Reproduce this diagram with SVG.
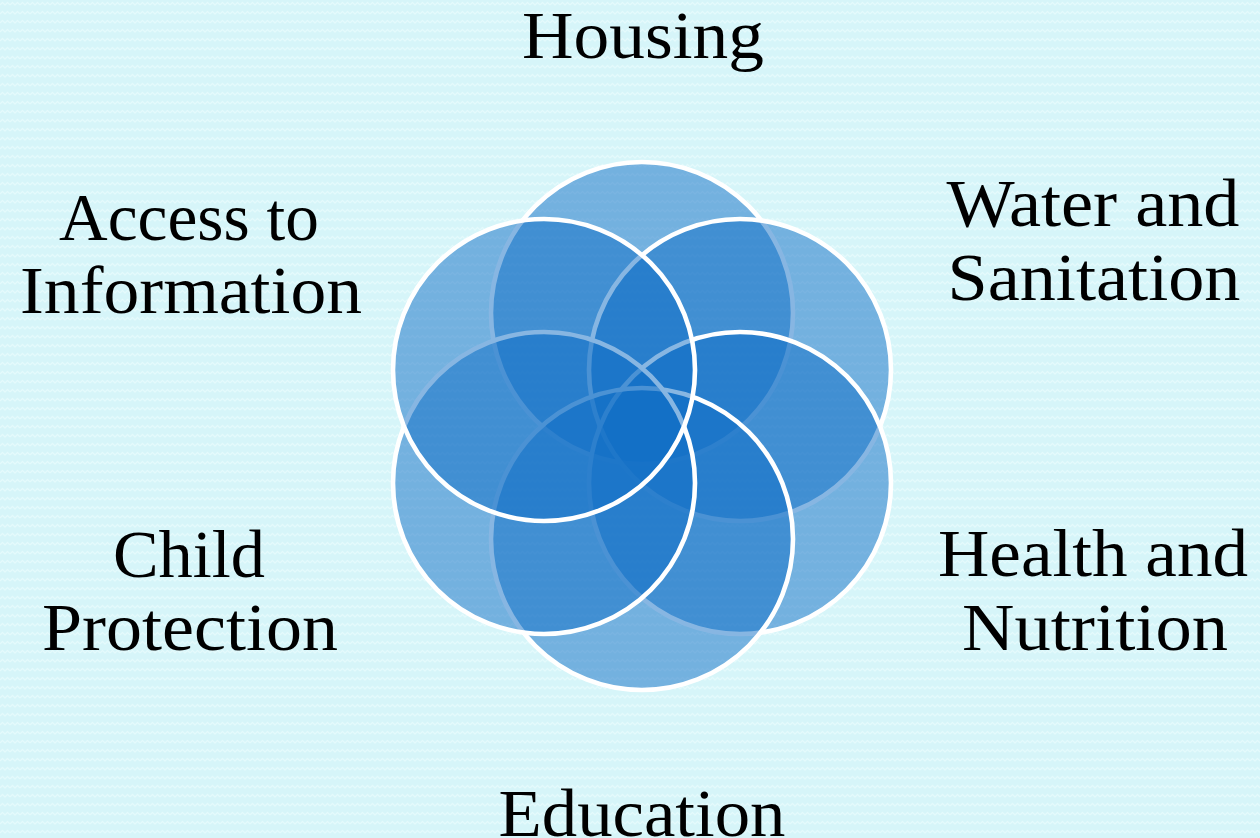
<svg xmlns="http://www.w3.org/2000/svg" width="1260" height="838" viewBox="0 0 1260 838">
  <defs>
    <!-- faint chevron texture on the page -->
    <pattern id="zigzag" width="10" height="9" patternUnits="userSpaceOnUse">
      <rect width="10" height="9" fill="#d6f5f9"/>
      <path d="M0 5 L2.5 2.5 L5 5 L7.5 2.5 L10 5" fill="none" stroke="#e4fafc" stroke-width="1.3"/>
    </pattern>
    <style>
      .ring { fill: #106ec6; fill-opacity: 0.5; stroke: #ffffff; stroke-width: 4.6; }
      .label { font-family: "Liberation Serif", "DejaVu Serif", serif; font-size: 68px; fill: #000000; text-anchor: middle; }
    </style>
  </defs>

  <rect width="1260" height="838" fill="url(#zigzag)"/>

  <!-- six overlapping rings, drawn clockwise from the top -->
  <g id="rings">
    <circle id="ring-housing" class="ring" cx="642" cy="313" r="151"/>
    <circle id="ring-water" class="ring" cx="740" cy="370" r="151"/>
    <circle id="ring-health" class="ring" cx="740" cy="483" r="151"/>
    <circle id="ring-education" class="ring" cx="642" cy="539" r="151"/>
    <circle id="ring-child" class="ring" cx="544" cy="483" r="151"/>
    <circle id="ring-access" class="ring" cx="544" cy="370" r="151"/>
  </g>

  <g id="connectors"/>

  <g id="node-housing">
    <text class="label" x="643" y="58" textLength="242" lengthAdjust="spacingAndGlyphs">Housing</text>
  </g>
  <g id="node-water">
    <text class="label" x="1093" y="226" textLength="293" lengthAdjust="spacingAndGlyphs">Water and</text>
    <text class="label" x="1094" y="300" textLength="293" lengthAdjust="spacingAndGlyphs">Sanitation</text>
  </g>
  <g id="node-health">
    <text class="label" x="1093" y="576" textLength="310" lengthAdjust="spacingAndGlyphs">Health and</text>
    <text class="label" x="1095" y="650" textLength="266" lengthAdjust="spacingAndGlyphs">Nutrition</text>
  </g>
  <g id="node-education">
    <text class="label" x="642" y="836" textLength="287" lengthAdjust="spacingAndGlyphs">Education</text>
  </g>
  <g id="node-child">
    <text class="label" x="189" y="577" textLength="152" lengthAdjust="spacingAndGlyphs">Child</text>
    <text class="label" x="190" y="650" textLength="296" lengthAdjust="spacingAndGlyphs">Protection</text>
  </g>
  <g id="node-access">
    <text class="label" x="189" y="240" textLength="260" lengthAdjust="spacingAndGlyphs">Access to</text>
    <text class="label" x="191" y="313" textLength="342" lengthAdjust="spacingAndGlyphs">Information</text>
  </g>
</svg>
